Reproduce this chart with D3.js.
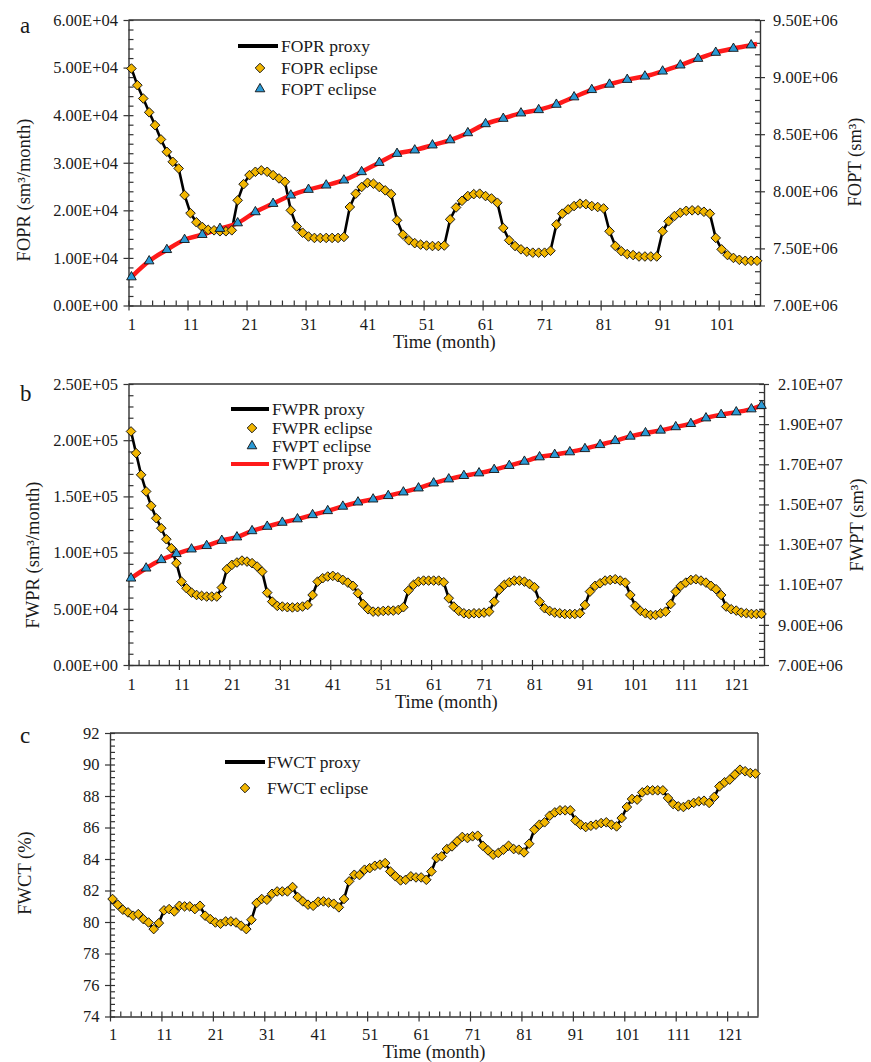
<!DOCTYPE html>
<html><head><meta charset="utf-8">
<script src="https://cdn.jsdelivr.net/npm/d3@7/dist/d3.min.js"></script>
<style>
body{margin:0;background:#fff}
svg text{font-family:"Liberation Serif","Times New Roman",serif;fill:#1a1a1a}
</style>
</head><body>
<svg id="chart" width="871" height="1062"></svg>
<script>
// ---------------- DATA ----------------
// Panel a: FOPR (sm3/month), months 1..107
const foprEclipse = [
49800,46300,43500,40600,37900,34900,32300,30200,28800,23200,
19400,17500,16500,15900,15800,15600,15600,15800,22100,25500,
27400,28100,28400,28100,27400,26700,26000,20000,16600,15300,
14500,14200,14200,14200,14200,14200,14400,20700,23500,24900,
25800,25600,24900,24200,23400,17900,14900,13700,13100,12800,
12600,12500,12500,12600,18100,20600,22000,23000,23400,23500,
23000,22500,21600,16300,13700,12500,11800,11300,11100,11100,
11100,11500,17000,19300,20200,20900,21400,21300,20900,20700,
20400,15600,12500,11400,10800,10600,10300,10300,10300,10300,
15600,17700,18800,19500,19900,20000,20000,19700,19300,14200,
11800,10600,10000,9600,9400,9400,9400];
const foprProxy = foprEclipse;
// FOPT (sm3) eclipse, every third month
const foptMonths = [1,4,7,10,13,16,19,22,25,28,31,34,37,40,43,46,49,52,55,58,61,64,67,70,73,76,79,82,85,88,91,94,97,100,103,106];
const foptEclipse = [7.249e6,7.389e6,7.488e6,7.576e6,7.620e6,7.673e6,7.722e6,7.819e6,7.892e6,7.965e6,
8.015e6,8.053e6,8.097e6,8.170e6,8.251e6,8.330e6,8.360e6,8.404e6,8.449e6,8.511e6,
8.590e6,8.637e6,8.684e6,8.713e6,8.760e6,8.825e6,8.889e6,8.936e6,8.978e6,9.007e6,
9.051e6,9.104e6,9.162e6,9.215e6,9.250e6,9.280e6];
const foptProxyMonths = foptMonths.concat([107]);
const foptProxy = foptEclipse.concat([9.29e6]);

// Panel b: FWPR (sm3/month), months 1..126
const fwprEclipse = [
207800,188500,169200,154400,141600,130600,121700,111900,103900,90600,
74200,68300,64400,62300,61500,60900,60900,60900,68900,85200,
89100,91200,92900,92000,90600,87600,83100,64400,56400,52600,
52000,51400,51200,51400,52000,53400,62300,74200,77200,78700,
79300,78100,75700,73300,70400,63800,54300,49600,47500,47500,
48100,48400,48400,49000,51400,66200,71300,74200,75100,75100,
75100,75100,73600,59400,52000,48100,46000,45400,46000,46000,
46600,47500,56400,66800,71300,73600,75100,75100,74200,72100,
69200,56400,50500,48100,46600,46000,45400,45400,45400,46000,
53400,65300,70400,72700,75100,75700,76300,75100,73300,62300,
52600,48100,46000,44500,44500,46000,47500,54300,65300,70400,
73300,75700,76300,75100,73300,70400,67400,62300,52000,49600,
48400,46600,46000,45400,45400,45400];
const fwprProxy = fwprEclipse;
const fwptMonths = [1,4,7,10,13,16,19,22,25,28,31,34,37,40,43,46,49,52,55,58,61,64,67,70,73,76,79,82,85,88,91,94,97,100,103,106,109,112,115,118,121,124,126];
const fwptEclipse = [11.32e6,11.82e6,12.24e6,12.54e6,12.77e6,12.94e6,13.20e6,13.37e6,13.68e6,13.90e6,
14.10e6,14.27e6,14.48e6,14.68e6,14.90e6,15.11e6,15.26e6,15.43e6,15.61e6,15.81e6,
16.06e6,16.26e6,16.43e6,16.56e6,16.73e6,16.93e6,17.14e6,17.36e6,17.48e6,17.61e6,
17.77e6,17.97e6,18.17e6,18.39e6,18.56e6,18.69e6,18.86e6,19.02e6,19.30e6,19.47e6,
19.60e6,19.75e6,19.92e6];
const fwptProxy = fwptEclipse;

// Panel c: FWCT (%), months 1..126
const fwctEclipse = [
81.46,81.10,80.78,80.61,80.40,80.50,80.18,79.97,79.55,79.93,
80.74,80.82,80.67,81.03,80.99,80.99,80.82,81.03,80.40,80.18,
79.97,79.89,80.04,80.04,79.97,79.76,79.55,80.14,81.20,81.46,
81.41,81.79,81.94,81.94,81.94,82.22,81.58,81.31,81.10,81.03,
81.29,81.31,81.24,81.16,80.93,81.46,82.58,83.00,82.98,83.32,
83.42,83.57,83.64,83.74,83.21,82.90,82.64,82.68,82.90,82.83,
82.83,82.68,83.21,84.06,84.17,84.63,84.80,85.12,85.40,85.33,
85.44,85.48,84.84,84.55,84.27,84.38,84.59,84.84,84.63,84.59,
84.42,84.97,85.86,86.18,86.33,86.75,86.96,87.09,87.09,87.09,
86.45,86.18,86.03,86.11,86.18,86.28,86.33,86.18,86.07,86.60,
87.30,87.81,87.77,88.23,88.36,88.36,88.36,88.36,87.87,87.49,
87.34,87.30,87.45,87.56,87.66,87.70,87.56,87.94,88.61,88.87,
89.04,89.36,89.67,89.57,89.46,89.42];
const fwctProxy = fwctEclipse;

// Tick labels
const xLabelsA = [1,11,21,31,41,51,61,71,81,91,101];
const xLabelsBC = [1,11,21,31,41,51,61,71,81,91,101,111,121];
const foprTicks = [0,10000,20000,30000,40000,50000,60000];
const foptTicks = [7.0e6,7.5e6,8.0e6,8.5e6,9.0e6,9.5e6];
const fwprTicks = [0,50000,100000,150000,200000,250000];
const fwptTicks = [7e6,9e6,11e6,13e6,15e6,17e6,19e6,21e6];
const fwctTicks = [74,76,78,80,82,84,86,88,90,92];

// ---------------- STYLE ----------------
const AXIS = "#333";
const GOLD = "#f2b600";
const BLUE = "#2b9ad6";
const RED = "#ff1a1a";
const TICKFS = 16.5, TITLEFS = 18.5, LEGFS = 17.5;

const svg = d3.select("#chart");

function sci(v){
  if (v === 0) return "0.00E+00";
  const e = Math.floor(Math.log10(v) + 1e-9);
  const m = v / Math.pow(10, e);
  return m.toFixed(2) + "E+" + String(e).padStart(2, "0");
}
function styleAxis(g){
  g.selectAll("path.domain").attr("stroke", AXIS).attr("stroke-width", 1.4);
  g.selectAll(".tick line").attr("stroke", AXIS).attr("stroke-width", 1.2);
  g.selectAll("text").attr("font-size", TICKFS).attr("font-family", '"Liberation Serif", serif').attr("fill", "#1a1a1a");
}
function yAxis(scale, xPos, major, minorStep, orient, fmt, pad){
  const mk = orient === "left" ? d3.axisLeft : d3.axisRight;
  const d = scale.domain();
  const minor = d3.range(d[0], d[1] + minorStep/2, minorStep);
  const g2 = svg.append("g").attr("transform", `translate(${xPos},0)`)
    .call(mk(scale).tickValues(minor).tickSize(-5).tickFormat(""));
  g2.select(".domain").remove();
  const g = svg.append("g").attr("transform", `translate(${xPos},0)`)
    .call(mk(scale).tickValues(major).tickSize(5).tickSizeOuter(0).tickPadding(pad).tickFormat(fmt));
  styleAxis(g); styleAxis(g2);
}
function xAxis(scale, yPos, labels, n, labelOffset){
  const majorB = labels.map(v => v - 0.5);
  const minorB = d3.range(0.5, n + 0.5, 2);
  const g2 = svg.append("g").attr("transform", `translate(0,${yPos})`)
    .call(d3.axisBottom(scale).tickValues(minorB).tickSize(-5).tickFormat(""));
  g2.select(".domain").remove();
  const g = svg.append("g").attr("transform", `translate(0,${yPos})`)
    .call(d3.axisBottom(scale).tickValues(majorB).tickSize(5).tickSizeOuter(0).tickFormat(""));
  const g3 = svg.append("g").attr("transform", `translate(0,${yPos})`)
    .call(d3.axisBottom(scale).tickValues(labels).tickSize(0).tickFormat(d3.format("d")));
  g3.select(".domain").remove();
  styleAxis(g); styleAxis(g2); styleAxis(g3);
  g3.selectAll("text").attr("y", labelOffset).attr("dy", 0);
}
function frameLine(x1, y1, x2, y2){
  svg.append("line").attr("x1", x1).attr("y1", y1).attr("x2", x2).attr("y2", y2)
    .attr("stroke", AXIS).attr("stroke-width", 1.4);
}
const diamond = d3.symbol().type(d3.symbolSquare).size(46);
const tri = d3.symbol().type(d3.symbolTriangle).size(40);
function diamonds(xs, ys, months, vals){
  svg.append("g").selectAll("path").data(vals).join("path")
    .attr("d", diamond)
    .attr("transform", (v, i) => `translate(${xs(months[i])},${ys(v)}) rotate(45)`)
    .attr("fill", GOLD).attr("stroke", "#111").attr("stroke-width", 0.9);
}
function triangles(xs, ys, months, vals){
  svg.append("g").selectAll("path").data(vals).join("path")
    .attr("d", tri)
    .attr("transform", (v, i) => `translate(${xs(months[i])},${ys(v)})`)
    .attr("fill", BLUE).attr("stroke", "#111").attr("stroke-width", 0.9);
}
function linePath(xs, ys, months, vals, color, w, curve){
  const ln = d3.line().x((v, i) => xs(months[i])).y(v => ys(v)).curve(curve || d3.curveLinear);
  svg.append("path").datum(vals).attr("d", ln).attr("fill", "none")
    .attr("stroke", color).attr("stroke-width", w).attr("stroke-linejoin", "round");
}
function text(x, y, s, opts){
  const t = svg.append("text").attr("x", x).attr("y", y).text(s);
  Object.entries(opts || {}).forEach(([k, v]) => t.attr(k, v));
  return t;
}
function vtitle(x, y, s){
  svg.append("text").attr("transform", `translate(${x},${y}) rotate(-90)`)
    .attr("text-anchor", "middle").attr("dominant-baseline", "central")
    .attr("font-size", TITLEFS).text(s);
}
function legendLine(x1, x2, y, color){
  svg.append("line").attr("x1", x1).attr("x2", x2).attr("y1", y).attr("y2", y)
    .attr("stroke", color).attr("stroke-width", 4);
}
function legendText(x, y, s){
  text(x, y, s, {"font-size": LEGFS, "dominant-baseline": "central"});
}
function letter(x, y, s){
  text(x, y, s, {"font-size": 23, "font-family": '"Liberation Sans", Arial, sans-serif', "fill": "#111"});
}

// ---------------- PANEL A ----------------
{
  const L = 128.5, R = 760, T = 20, B = 305.5, N = 107;
  const months = d3.range(1, N + 1);
  const x = d3.scaleLinear().domain([0.5, N + 0.5]).range([L, R]);
  const y = d3.scaleLinear().domain([0, 60000]).range([B, T]);
  const y2 = d3.scaleLinear().domain([7.0e6, 9.5e6]).range([B, T]);
  frameLine(L, T, R, T);
  yAxis(y, L, foprTicks, 2000, "left", sci, 5.5);
  yAxis(y2, R, foptTicks, 1e5, "right", sci, 8);
  xAxis(x, B, xLabelsA, N, 24.5);
  linePath(x, y, months, foprProxy, "#000", 2.6);
  linePath(x, y2, foptProxyMonths, foptProxy, RED, 4.5, d3.curveMonotoneX);
  diamonds(x, y, months, foprEclipse);
  triangles(x, y2, foptMonths, foptEclipse);
  vtitle(24, 190, "FOPR (sm³/month)");
  vtitle(855, 162, "FOPT (sm³)");
  text((L + R) / 2, 348, "Time (month)", {"text-anchor": "middle", "font-size": TITLEFS});
  letter(20, 33, "a");
  legendLine(238, 278, 46, "#000");
  legendText(281, 46, "FOPR proxy");
  svg.append("path").attr("d", diamond).attr("transform", "translate(260,68) rotate(45)")
    .attr("fill", GOLD).attr("stroke", "#111").attr("stroke-width", 0.9);
  legendText(281, 68, "FOPR eclipse");
  svg.append("path").attr("d", tri).attr("transform", "translate(260,89)")
    .attr("fill", BLUE).attr("stroke", "#111").attr("stroke-width", 0.9);
  legendText(281, 89, "FOPT eclipse");
}

// ---------------- PANEL B ----------------
{
  const L = 128.5, R = 764, T = 384, B = 665, N = 126;
  const months = d3.range(1, N + 1);
  const x = d3.scaleLinear().domain([0.5, N + 0.5]).range([L, R]);
  const y = d3.scaleLinear().domain([0, 250000]).range([B, T]);
  const y2 = d3.scaleLinear().domain([7e6, 21e6]).range([B, T]);
  frameLine(L, T, R, T);
  yAxis(y, L, fwprTicks, 10000, "left", sci, 5.5);
  yAxis(y2, R, fwptTicks, 4e5, "right", sci, 9);
  xAxis(x, B, xLabelsBC, N, 24.5);
  linePath(x, y, months, fwprProxy, "#000", 2.6);
  linePath(x, y2, fwptMonths, fwptProxy, RED, 4.5, d3.curveMonotoneX);
  diamonds(x, y, months, fwprEclipse);
  triangles(x, y2, fwptMonths, fwptEclipse);
  vtitle(33, 555, "FWPR (sm³/month)");
  vtitle(857, 525, "FWPT (sm³)");
  text((L + R) / 2, 708, "Time (month)", {"text-anchor": "middle", "font-size": TITLEFS});
  letter(20, 401, "b");
  legendLine(231, 269, 409, "#000");
  legendText(272, 409, "FWPR proxy");
  svg.append("path").attr("d", diamond).attr("transform", "translate(252,428) rotate(45)")
    .attr("fill", GOLD).attr("stroke", "#111").attr("stroke-width", 0.9);
  legendText(272, 428, "FWPR eclipse");
  svg.append("path").attr("d", tri).attr("transform", "translate(252,446)")
    .attr("fill", BLUE).attr("stroke", "#111").attr("stroke-width", 0.9);
  legendText(272, 446, "FWPT eclipse");
  legendLine(231, 269, 464, RED);
  legendText(272, 464, "FWPT proxy");
}

// ---------------- PANEL C ----------------
{
  const L = 110, R = 758, T = 733, B = 1016.5, N = 126;
  const months = d3.range(1, N + 1);
  const x = d3.scaleLinear().domain([0.5, N + 0.5]).range([L, R]);
  const y = d3.scaleLinear().domain([74, 92]).range([B, T]);
  frameLine(L, T, R, T);
  frameLine(R, T, R, B);
  yAxis(y, L, fwctTicks, 0.4, "left", d3.format("d"), 5.5);
  xAxis(x, B, xLabelsBC, N, 23);
  linePath(x, y, months, fwctProxy, "#000", 2.6);
  diamonds(x, y, months, fwctEclipse);
  vtitle(25, 873, "FWCT (%)");
  text((L + R) / 2, 1057.5, "Time (month)", {"text-anchor": "middle", "font-size": TITLEFS});
  letter(20, 743, "c");
  legendLine(225, 265, 762, "#000");
  legendText(267, 762, "FWCT proxy");
  svg.append("path").attr("d", diamond).attr("transform", "translate(245,788) rotate(45)")
    .attr("fill", GOLD).attr("stroke", "#111").attr("stroke-width", 0.9);
  legendText(267, 788, "FWCT eclipse");
}
</script>
</body></html>
